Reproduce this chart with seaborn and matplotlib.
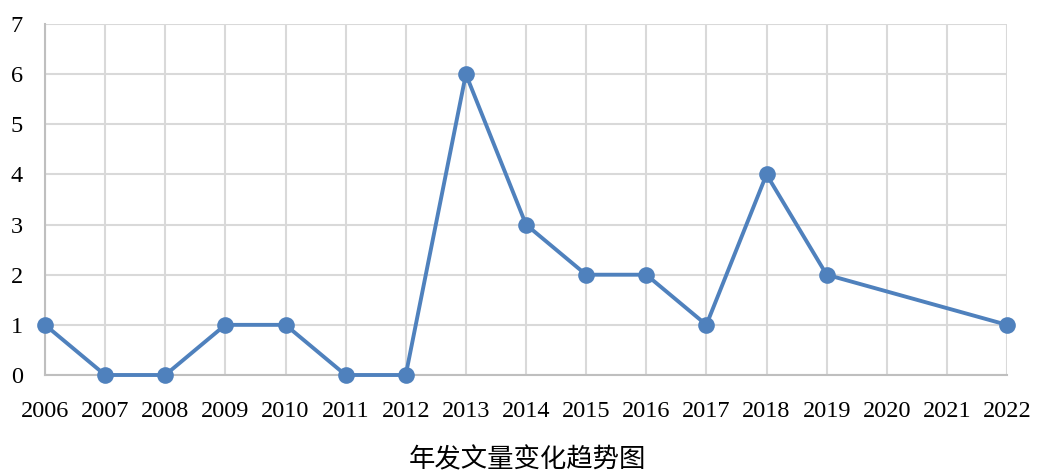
import matplotlib
matplotlib.use("Agg")
import matplotlib.pyplot as plt
import seaborn as sns
import pandas as pd

years = [2006, 2007, 2008, 2009, 2010, 2011, 2012, 2013, 2014, 2015, 2016, 2017, 2018, 2019, 2022]
counts = [1, 0, 0, 1, 1, 0, 0, 6, 3, 2, 2, 1, 4, 2, 1]
tick_years = list(range(2006, 2023))
y_ticks = [0, 1, 2, 3, 4, 5, 6, 7]
title = "年发文量变化趋势图"

sns.set_theme(style="white")
plt.rcParams['font.family'] = ['Liberation Serif', 'Noto Sans CJK SC', 'DejaVu Sans']

df = pd.DataFrame({"year": years, "count": counts})

fig = plt.figure(figsize=(10.38, 4.73), dpi=100)
ax = fig.add_axes([45/1038, 1 - 375/473, (1007 - 45)/1038, (375 - 24)/473])

sns.lineplot(data=df, x="year", y="count", ax=ax, color="#4f81bd", linewidth=2.8,
             marker="o", markersize=12, markeredgewidth=0, markeredgecolor="#4f81bd",
             markerfacecolor="#4f81bd", zorder=3, clip_on=False)

ax.set_xlim(2006, 2022)
ax.set_ylim(0, 7)
ax.set_xticks(tick_years)
ax.set_xticklabels([str(y) for y in tick_years])
ax.set_yticks(y_ticks)
ax.grid(True, color="#d9d9d9", linewidth=1.5)
ax.set_axisbelow(True)
for s in ["top", "right"]:
    ax.spines[s].set_visible(False)
for s in ["left", "bottom"]:
    ax.spines[s].set_color("#bfbfbf")
    ax.spines[s].set_linewidth(1.5)
ax.tick_params(axis="both", which="both", length=6, width=1.5, color="#bfbfbf",
               labelsize=17.5, labelcolor="#000000", direction="out")
ax.tick_params(axis="x", pad=13)
ax.tick_params(axis="y", pad=10)
ax.set_xlabel("")
ax.set_ylabel("")
for lab in ax.get_xticklabels() + ax.get_yticklabels():
    lab.set_family(['Liberation Serif', 'DejaVu Sans'])

fig.text(527/1038, 1 - 460/473, title, ha="center", va="center", fontsize=19,
         family=['Noto Sans CJK SC', 'DejaVu Sans'], color="#000000")

fig.savefig("out.png", dpi=100)
